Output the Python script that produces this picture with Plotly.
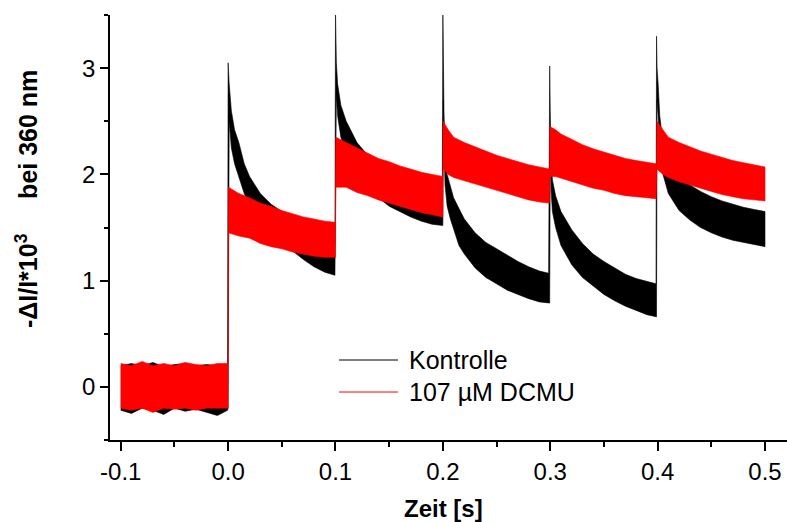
import plotly.graph_objects as go

# ---- data (noise envelope: upper / lower edge) ----
kontrolle_t = [-0.1, -0.09, -0.08, -0.07, -0.06, -0.05, -0.04, -0.03, -0.02, -0.01, -0.0005,
               0.0, 0.001, 0.003, 0.006, 0.01, 0.015, 0.02, 0.03, 0.04, 0.05, 0.06, 0.07, 0.08, 0.09, 0.0995,
               0.1, 0.1008, 0.102, 0.105, 0.11, 0.12, 0.13, 0.14, 0.15, 0.16, 0.17, 0.18, 0.19, 0.1995,
               0.2, 0.2005, 0.201, 0.202, 0.204, 0.207, 0.21, 0.215, 0.22, 0.23, 0.24, 0.25, 0.26, 0.27, 0.28, 0.29, 0.2985,
               0.2995, 0.3, 0.3008, 0.302, 0.305, 0.31, 0.32, 0.33, 0.34, 0.35, 0.36, 0.37, 0.38, 0.39, 0.3985,
               0.399, 0.3995, 0.4005, 0.402, 0.405, 0.41, 0.42, 0.43, 0.44, 0.45, 0.46, 0.47, 0.48, 0.49, 0.5]
kontrolle_hi = [0.2, 0.22, 0.2, 0.23, 0.19, 0.21, 0.22, 0.2, 0.21, 0.2, 0.2,
                3.05, 2.85, 2.6, 2.42, 2.3, 2.1, 1.98, 1.82, 1.72, 1.65, 1.55, 1.48, 1.42, 1.35, 1.32,
                3.55, 3.05, 2.85, 2.65, 2.5, 2.3, 2.18, 2.08, 2.0, 1.95, 1.9, 1.87, 1.84, 1.82,
                3.55, 3.1, 2.6, 2.2, 2.0, 1.88, 1.78, 1.68, 1.58, 1.45, 1.36, 1.3, 1.24, 1.18, 1.13, 1.09, 1.07,
                3.02, 2.6, 2.15, 1.95, 1.8, 1.65, 1.48, 1.35, 1.25, 1.18, 1.12, 1.06, 1.02, 0.99, 0.97,
                3.3, 3.0, 2.85, 2.55, 2.3, 2.12, 1.98, 1.9, 1.84, 1.79, 1.75, 1.72, 1.69, 1.67, 1.65]
kontrolle_lo = [-0.22, -0.25, -0.2, -0.22, -0.26, -0.2, -0.23, -0.21, -0.24, -0.27, -0.22,
                -0.2, 2.5, 2.25, 2.1, 1.98, 1.82, 1.7, 1.55, 1.45, 1.38, 1.28, 1.2, 1.13, 1.08, 1.05,
                1.05, 2.75, 2.55, 2.35, 2.2, 2.0, 1.88, 1.78, 1.7, 1.65, 1.6, 1.56, 1.53, 1.52,
                1.52, 2.7, 2.3, 1.9, 1.7, 1.58, 1.48, 1.33, 1.25, 1.12, 1.03, 0.97, 0.91, 0.87, 0.83, 0.8, 0.79,
                0.79, 2.2, 1.85, 1.65, 1.5, 1.33, 1.15, 1.03, 0.95, 0.87, 0.81, 0.76, 0.72, 0.68, 0.66,
                0.66, 2.7, 2.55, 2.25, 2.0, 1.82, 1.66, 1.57, 1.5, 1.45, 1.41, 1.38, 1.36, 1.34, 1.32]

dcmu_t = [-0.1, -0.09, -0.08, -0.07, -0.06, -0.05, -0.04, -0.03, -0.02, -0.01, -0.0005,
          0.0, 0.0003, 0.01, 0.02, 0.03, 0.04, 0.05, 0.06, 0.07, 0.08, 0.09, 0.0995,
          0.1, 0.1003, 0.11, 0.12, 0.13, 0.14, 0.15, 0.16, 0.17, 0.18, 0.19, 0.1995,
          0.2, 0.2003, 0.205, 0.21, 0.22, 0.23, 0.24, 0.25, 0.26, 0.27, 0.28, 0.29, 0.2985,
          0.2995, 0.2998, 0.305, 0.31, 0.32, 0.33, 0.34, 0.35, 0.36, 0.37, 0.38, 0.39, 0.3985,
          0.399, 0.3993, 0.405, 0.41, 0.42, 0.43, 0.44, 0.45, 0.46, 0.47, 0.48, 0.49, 0.5]
dcmu_hi = [0.22, 0.2, 0.24, 0.2, 0.22, 0.2, 0.23, 0.21, 0.2, 0.22, 0.22,
           0.25, 1.88, 1.82, 1.78, 1.73, 1.7, 1.66, 1.63, 1.6, 1.58, 1.56, 1.55,
           1.55, 2.35, 2.3, 2.25, 2.2, 2.15, 2.12, 2.08, 2.05, 2.02, 2.0, 1.98,
           1.98, 2.5, 2.42, 2.35, 2.3, 2.26, 2.22, 2.18, 2.15, 2.12, 2.09, 2.07, 2.05,
           2.05, 2.45, 2.42, 2.38, 2.33, 2.28, 2.24, 2.21, 2.18, 2.15, 2.13, 2.11, 2.1,
           2.1, 2.5, 2.42, 2.35, 2.3, 2.26, 2.22, 2.19, 2.16, 2.13, 2.11, 2.09, 2.07]
dcmu_lo = [-0.2, -0.22, -0.2, -0.24, -0.2, -0.21, -0.2, -0.22, -0.2, -0.2, -0.2,
           -0.2, 1.45, 1.42, 1.4, 1.35, 1.32, 1.3, 1.27, 1.25, 1.23, 1.22, 1.22,
           1.22, 1.88, 1.88, 1.83, 1.8, 1.76, 1.73, 1.7, 1.67, 1.64, 1.62, 1.6,
           1.6, 2.05, 2.0, 1.97, 1.94, 1.91, 1.88, 1.85, 1.82, 1.79, 1.76, 1.74, 1.73,
           1.73, 1.98, 1.98, 1.96, 1.93, 1.9, 1.87, 1.85, 1.82, 1.8, 1.79, 1.78, 1.77,
           1.77, 2.05, 2.0, 1.97, 1.93, 1.9, 1.87, 1.84, 1.81, 1.79, 1.77, 1.76, 1.75]

series_names = ["Kontrolle", "107 µM DCMU"]
series_colors = ["#000000", "#ff0000"]

x_tickvals = [-0.1, 0.0, 0.1, 0.2, 0.3, 0.4, 0.5]
x_ticktext = ["-0.1", "0.0", "0.1", "0.2", "0.3", "0.4", "0.5"]
y_tickvals = [0, 1, 2, 3]
y_ticktext = ["0", "1", "2", "3"]

FONT = "Liberation Sans, Arial, sans-serif"

fig = go.Figure()

# noisy traces drawn as filled noise envelopes (red on top)
for t, hi, lo, col, name in [(kontrolle_t, kontrolle_hi, kontrolle_lo, series_colors[0], series_names[0]),
                             (dcmu_t, dcmu_hi, dcmu_lo, series_colors[1], series_names[1])]:
    fig.add_trace(go.Scatter(
        x=t + t[::-1], y=hi + lo[::-1], mode="lines", fill="toself", name=name,
        fillcolor=col, line=dict(color=col, width=0.6), showlegend=False,
        hoverinfo="skip"))

# legend box (line sample + label), placed in paper coordinates
legend_x0, legend_x1, legend_text_x = 0.3383, 0.4254, 0.4387
legend_rows_y = [0.1882, 0.1129]
shapes = []
annotations = []
for name, col, ly in zip(series_names, series_colors, legend_rows_y):
    shapes.append(dict(type="line", xref="paper", yref="paper",
                       x0=legend_x0, x1=legend_x1, y0=ly, y1=ly,
                       line=dict(color=col, width=1)))
    annotations.append(dict(text=name, xref="paper", yref="paper",
                            x=legend_text_x, y=ly, xanchor="left", yanchor="middle",
                            showarrow=False, font=dict(size=25, family=FONT, color="black")))

annotations += [
    dict(text="<b>Zeit [s]</b>", xref="paper", yref="paper",
         x=0.492, y=-0.162, xanchor="center", yanchor="middle",
         showarrow=False, font=dict(size=24, family=FONT)),
    dict(text="<b>-ΔI/I*10<sup>3</sup>\u00a0\u00a0\u00a0\u00a0 bei 360 nm</b>",
         xref="paper", yref="paper", x=-0.1226, y=0.567,
         xanchor="center", yanchor="middle", textangle=-90,
         showarrow=False, font=dict(size=25, family=FONT)),
]

fig.update_layout(
    width=787, height=522,
    margin=dict(l=110, r=0, t=15, b=82),
    paper_bgcolor="white", plot_bgcolor="white",
    font=dict(family=FONT, size=24, color="black"),
    showlegend=False,
    xaxis=dict(range=[-0.11, 0.5205], showgrid=False, zeroline=False,
               showline=True, linecolor="black", linewidth=1.5,
               ticks="outside", ticklen=9, tickwidth=1.5, tickcolor="black",
               tickvals=x_tickvals, ticktext=x_ticktext,
               minor=dict(ticks="outside", ticklen=5, tickwidth=1.5, tickcolor="black",
                          dtick=0.05, tick0=0)),
    yaxis=dict(range=[-0.5, 3.5], showgrid=False, zeroline=False,
               showline=True, linecolor="black", linewidth=1.5,
               ticks="outside", ticklen=8, tickwidth=1.5, tickcolor="black",
               tickvals=y_tickvals, ticktext=y_ticktext,
               minor=dict(ticks="outside", ticklen=4, tickwidth=1.5, tickcolor="black",
                          dtick=0.5, tick0=0)),
    shapes=shapes,
    annotations=annotations,
)

fig.write_html("out.html")
